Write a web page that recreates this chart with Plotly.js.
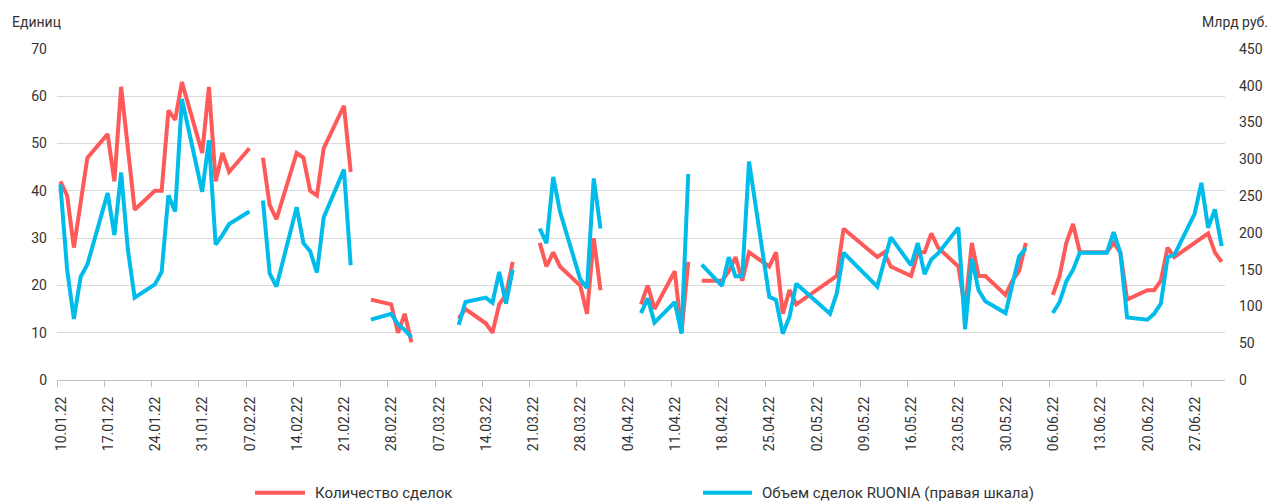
<!DOCTYPE html>
<html>
<head>
<meta charset="utf-8">
<script src="https://cdn.plot.ly/plotly-3.0.1.min.js"></script>
<style>html,body{margin:0;padding:0;background:#fff;}#chart{width:1279px;height:504px;}</style>
</head>
<body>
<div id="chart"></div>
<script>
// Trading dates (null values mark days without data -> gaps in lines)
const dates = [
 '2022-01-10','2022-01-11','2022-01-12','2022-01-13','2022-01-14','2022-01-17','2022-01-18','2022-01-19','2022-01-20','2022-01-21',
 '2022-01-24','2022-01-25','2022-01-26','2022-01-27','2022-01-28','2022-01-31',
 '2022-02-01','2022-02-02','2022-02-03','2022-02-04','2022-02-07','2022-02-08','2022-02-09','2022-02-10','2022-02-11',
 '2022-02-14','2022-02-15','2022-02-16','2022-02-17','2022-02-18','2022-02-21','2022-02-22','2022-02-24','2022-02-25','2022-02-28',
 '2022-03-01','2022-03-02','2022-03-03','2022-03-04','2022-03-10','2022-03-11','2022-03-14','2022-03-15','2022-03-16','2022-03-17','2022-03-18',
 '2022-03-21','2022-03-22','2022-03-23','2022-03-24','2022-03-25','2022-03-28','2022-03-29','2022-03-30','2022-03-31',
 '2022-04-01','2022-04-06','2022-04-07','2022-04-08','2022-04-11','2022-04-12','2022-04-13','2022-04-14','2022-04-15',
 '2022-04-18','2022-04-19','2022-04-20','2022-04-21','2022-04-22','2022-04-25','2022-04-26','2022-04-27','2022-04-28','2022-04-29',
 '2022-05-04','2022-05-05','2022-05-06','2022-05-11','2022-05-12','2022-05-13','2022-05-16','2022-05-17','2022-05-18','2022-05-19','2022-05-20',
 '2022-05-23','2022-05-24','2022-05-25','2022-05-26','2022-05-27','2022-05-30','2022-05-31',
 '2022-06-01','2022-06-02','2022-06-03','2022-06-06','2022-06-07','2022-06-08','2022-06-09','2022-06-10','2022-06-14','2022-06-15','2022-06-16','2022-06-17',
 '2022-06-20','2022-06-21','2022-06-22','2022-06-23','2022-06-24','2022-06-27','2022-06-28','2022-06-29','2022-06-30','2022-07-01'
];

// Количество сделок (units, left axis)
const dealsCount = [
 42,39,28,38,47,52,42,62,48,36,
 40,40,57,55,63,48,
 62,42,48,44,49,null,47,37,34,
 48,47,40,39,49,58,44,null,17,16,
 10,14,8,null,13,15,12,10,16,18,25,
 null,29,24,27,24,20,14,30,19,
 null,16,20,15,23,10,25,null,21,
 21,23,26,21,27,24,27,14,19,16,
 21,22,32,26,27,24,22,27,27,31,28,
 24,15,29,22,22,18,21,
 23,29,null,18,22,29,33,27,27,29,27,17,
 19,19,21,28,26,29,30,31,27,25
];

// Объем сделок RUONIA (bn RUB, right axis)
const ruoniaVolume = [
 266,150,83,140,157,254,197,282,177,112,
 130,147,251,229,382,256,
 326,184,197,212,229,null,244,145,127,
 235,186,175,146,221,286,156,null,82,90,
 76,68,58,null,75,106,112,105,147,104,150,
 null,206,186,276,229,137,125,274,206,
 null,91,111,78,106,63,280,null,157,
 128,167,141,141,297,113,109,63,86,131,
 90,118,173,127,163,194,156,186,144,164,172,
 207,69,165,122,107,91,129,
 168,179,null,91,106,134,150,173,173,201,173,85,
 82,90,104,167,170,226,268,207,232,182
];

const seriesNames = ['Количество сделок', 'Объем сделок RUONIA (правая шкала)'];
const leftTitle = 'Единиц';
const rightTitle = 'Млрд руб.';

const RED = '#FF5A5A';
const BLUE = '#00BCEB';
const FONT = 'Roboto, "Liberation Sans", sans-serif';
const TXT = '#333333';

// Points are placed in the middle of their day slot (Excel date axis style)
const xs = dates.map(d => d + ' 12:00');

const traces = [
 {x: xs, y: dealsCount, name: seriesNames[0], type: 'scatter', mode: 'lines',
  line: {color: RED, width: 4, shape: 'linear'}, connectgaps: false, yaxis: 'y', showlegend: false},
 {x: xs, y: ruoniaVolume, name: seriesNames[1], type: 'scatter', mode: 'lines',
  line: {color: BLUE, width: 4, shape: 'linear'}, connectgaps: false, yaxis: 'y2', showlegend: false}
];

// legend drawn manually (paper coordinates)
const legY = -0.341;
const layout = {
 width: 1279, height: 504,
 margin: {l: 57, r: 54, t: 49, b: 124, pad: 0},
 paper_bgcolor: '#ffffff', plot_bgcolor: '#ffffff',
 font: {family: FONT, size: 14, color: TXT},
 showlegend: false,
 xaxis: {
  type: 'date', range: ['2022-01-10', '2022-07-02'],
  tick0: '2022-01-10', dtick: 7 * 86400000, tickformat: '%d.%m.%y',
  tickangle: -90, ticks: 'outside', ticklen: 6, tickcolor: '#bfbfbf', tickwidth: 1,
  showline: true, linecolor: '#bfbfbf', linewidth: 1, showgrid: false, zeroline: false,
  ticklabelshift: 4, ticklabelstandoff: 4,
  tickfont: {family: FONT, size: 14, color: TXT}, fixedrange: true
 },
 yaxis: {
  range: [0, 70], dtick: 10, tick0: 0, showgrid: true, gridcolor: '#d9d9d9', gridwidth: 1,
  zeroline: false, showline: false, ticks: '', ticklabelstandoff: 9,
  tickfont: {family: FONT, size: 14, color: TXT}, fixedrange: true
 },
 yaxis2: {
  range: [0, 450], dtick: 50, tick0: 0, overlaying: 'y', side: 'right', showgrid: false,
  zeroline: false, showline: false, ticks: '', ticklabelstandoff: 13,
  tickfont: {family: FONT, size: 14, color: TXT}, fixedrange: true
 },
 shapes: [
  {type: 'line', xref: 'paper', yref: 'paper', x0: 0.1695, x1: 0.2123, y0: legY, y1: legY, line: {color: RED, width: 4}},
  {type: 'line', xref: 'paper', yref: 'paper', x0: 0.5531, x1: 0.5950, y0: legY, y1: legY, line: {color: BLUE, width: 4}}
 ],
 annotations: [
  {text: seriesNames[0], xref: 'paper', yref: 'paper', x: 0.2192, y: legY, xanchor: 'left', yanchor: 'middle', showarrow: false, font: {family: FONT, size: 15, color: TXT}},
  {text: seriesNames[1], xref: 'paper', yref: 'paper', x: 0.6019, y: legY, xanchor: 'left', yanchor: 'middle', showarrow: false, font: {family: FONT, size: 15, color: TXT}},
  {text: leftTitle, xref: 'paper', yref: 'paper', x: -0.0402, y: 1.0816, xanchor: 'left', yanchor: 'middle', showarrow: false, font: {family: FONT, size: 14, color: TXT}},
  {text: rightTitle, xref: 'paper', yref: 'paper', x: 1.0385, y: 1.0816, xanchor: 'right', yanchor: 'middle', showarrow: false, font: {family: FONT, size: 14, color: TXT}}
 ]
};

Plotly.newPlot('chart', traces, layout, {staticPlot: true, displayModeBar: false});
</script>
</body>
</html>
